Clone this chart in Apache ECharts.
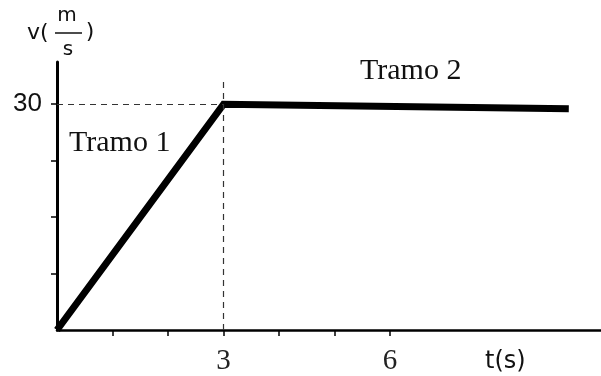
<!DOCTYPE html>
<html>
<head>
<meta charset="utf-8">
<script src="https://cdn.jsdelivr.net/npm/echarts@6/dist/echarts.min.js"></script>
<style>html,body{margin:0;padding:0;background:#fff;}#c{width:601px;height:376px;}</style>
</head>
<body>
<div id="c"></div>
<script>
// Data
const tValues = [0, 3, 9.22];
const vValues = [0, 30, 29.4];
const xTickValues = [1, 2, 3, 4, 5, 6];
const xTickLabels = [3, 6];
const yTickValues = [7.5, 15, 22.5, 30];
const yTickLabels = [30];
const segmentLabels = ['Tramo 1', 'Tramo 2'];
const refT = 3;
const refV = 30;
const refTop = 33.2;

const chart = echarts.init(document.getElementById('c'), null, {renderer: 'canvas'});
const option = {
  animation: false,
  backgroundColor: '#fff',
  grid: {left: 57, right: 0, top: 62, bottom: 46, containLabel: false},
  xAxis: {
    type: 'value', min: 0, max: 9.8,
    axisLine: {show: true, lineStyle: {color: '#000', width: 2.5}},
    axisTick: {show: true, length: 6, lineStyle: {color: '#000', width: 1.5}, customValues: xTickValues},
    axisLabel: {show: true, customValues: xTickLabels, fontFamily: 'Liberation Serif', fontSize: 29, color: '#222', margin: 17},
    splitLine: {show: false}
  },
  yAxis: {
    type: 'value', min: 0, max: 35.6,
    axisLine: {show: true, lineStyle: {color: '#000', width: 3}},
    axisTick: {show: true, length: 6, lineStyle: {color: '#000', width: 1.5}, customValues: yTickValues},
    axisLabel: {show: true, customValues: yTickLabels, fontFamily: 'Liberation Sans', fontSize: 26, color: '#111', margin: 15},
    splitLine: {show: false}
  },
  series: [{
    type: 'line',
    data: tValues.map((t, i) => [t, vValues[i]]),
    showSymbol: false,
    symbol: 'none',
    lineStyle: {color: '#000', width: 7, cap: 'butt', join: 'miter'},
    silent: true,
    markLine: {
      silent: true,
      symbol: ['none', 'none'],
      label: {show: false},
      lineStyle: {color: '#333', width: 1.2, type: [6, 5]},
      data: [
        [{coord: [0, refV]}, {coord: [refT, refV]}],
        [{coord: [refT, 0]}, {coord: [refT, refTop]}]
      ]
    }
  }],
  graphic: [
    {type: 'text', left: 69, top: 128, style: {text: segmentLabels[0], font: '30px "Liberation Serif"', fill: '#111'}},
    {type: 'text', left: 360, top: 56, style: {text: segmentLabels[1], font: '30px "Liberation Serif"', fill: '#111'}},
    {type: 'text', x: 27, y: 33, style: {text: 'v(', font: '22px "DejaVu Sans"', fill: '#111', align: 'left', verticalAlign: 'middle'}},
    {type: 'text', x: 67, y: 16, style: {text: 'm', font: '20px "DejaVu Sans"', fill: '#111', align: 'center', verticalAlign: 'middle'}},
    {type: 'line', shape: {x1: 55, y1: 33, x2: 82, y2: 33}, style: {stroke: '#111', lineWidth: 1.5}},
    {type: 'text', x: 68, y: 50, style: {text: 's', font: '20px "DejaVu Sans"', fill: '#111', align: 'center', verticalAlign: 'middle'}},
    {type: 'text', x: 90, y: 32, style: {text: ')', font: '22px "DejaVu Sans"', fill: '#111', align: 'center', verticalAlign: 'middle'}},
    {type: 'text', x: 485, y: 362, style: {text: 't(s)', font: '24px "DejaVu Sans"', fill: '#111', align: 'left', verticalAlign: 'middle'}}
  ]
};
chart.setOption(option);
</script>
</body>
</html>
